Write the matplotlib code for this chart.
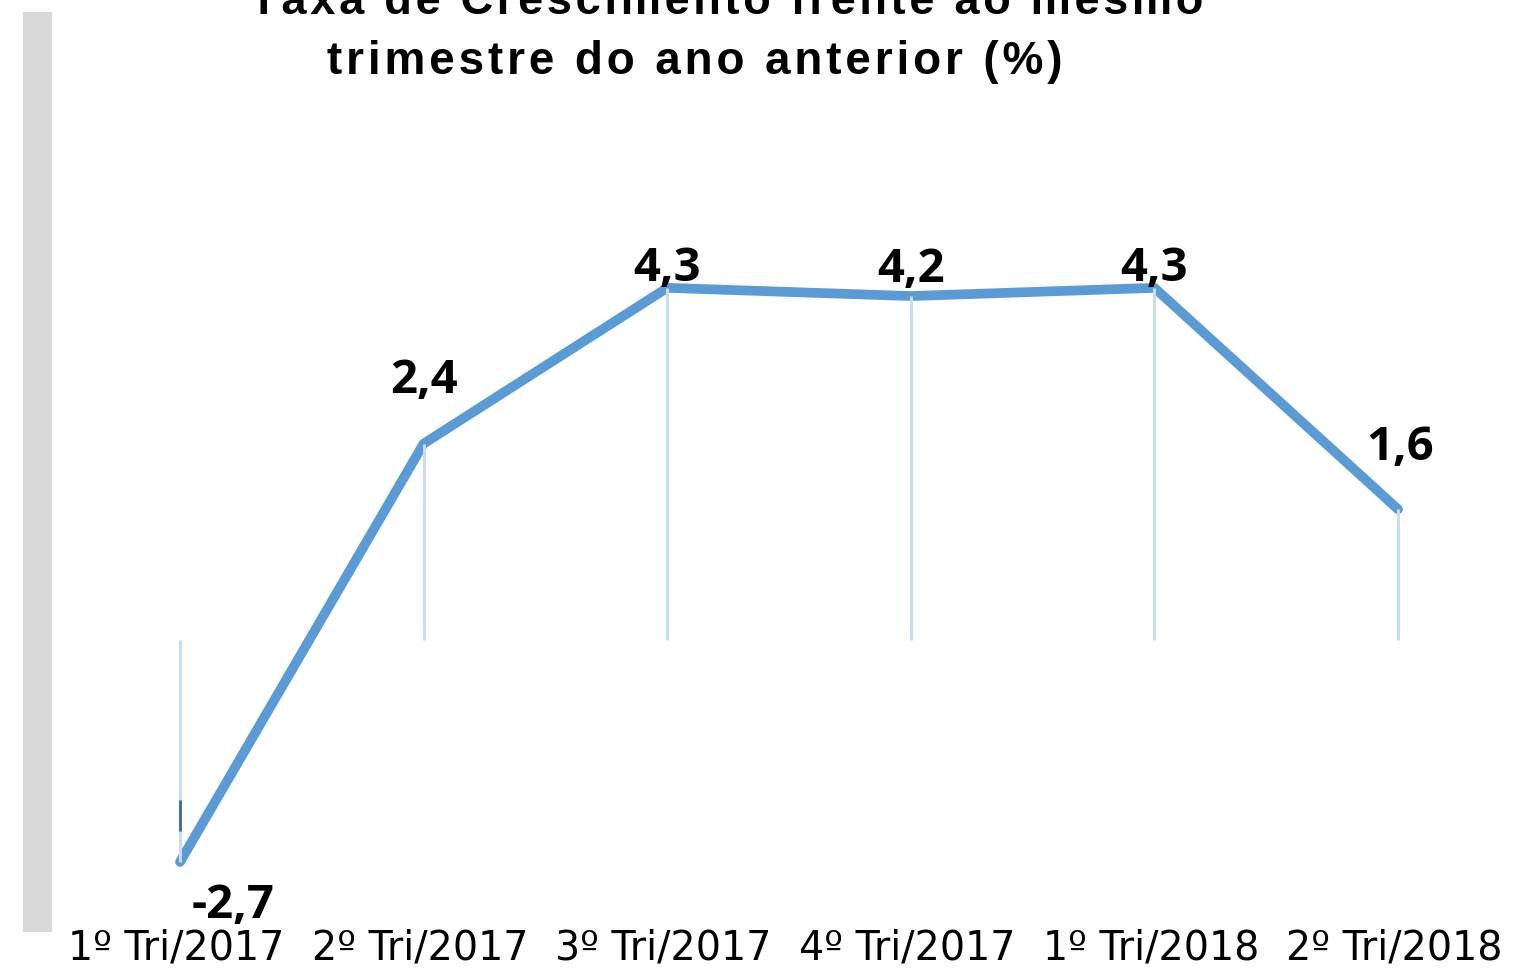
import matplotlib.pyplot as plt
from matplotlib.patches import Rectangle
import matplotlib.transforms as mtransforms

# Data
quarters = ["1º Tri/2017", "2º Tri/2017", "3º Tri/2017", "4º Tri/2017", "1º Tri/2018", "2º Tri/2018"]
growth = [-2.7, 2.4, 4.3, 4.2, 4.3, 1.6]
value_labels = ["-2,7", "2,4", "4,3", "4,2", "4,3", "1,6"]

title_line1 = "Taxa de Crescimento frente ao mesmo"
title_line2 = "trimestre do ano anterior (%)"

# label offsets in pixels (dx, dy) relative to each point
label_offsets = [(53, -44), (0, 63), (0, 19), (0, 27), (0, 19), (2, 62)]

fig = plt.figure(figsize=(15.13, 9.71), dpi=100)
fig.patch.set_facecolor("white")

# grey bar on the left
fig.patches.append(Rectangle((23 / 1513, 39 / 971), 29 / 1513, 920 / 971,
                             transform=fig.transFigure, facecolor="#d9d9d9",
                             edgecolor="none", zorder=0))

ax = fig.add_axes([0, 0, 1, 1])
ax.axis("off")
ax.set_xlim(-0.739, 5.472)
ax.set_ylim(-4.03, 7.81)

x = list(range(len(quarters)))

ax.plot(x, growth, color="#5b9bd5", lw=7, solid_capstyle="round",
        solid_joinstyle="round", zorder=2)
ax.vlines(x, 0, growth, color="#c9dcf0", lw=2.2, zorder=3)
# small dark mark on the first drop line
ax.vlines([0], -2.32, -1.95, color="#3d6a99", lw=2.0, zorder=4)

for xi, yi, lab, (dx, dy) in zip(x, growth, value_labels, label_offsets):
    ax.annotate(lab, (xi, yi), xytext=(dx * 0.72, dy * 0.72), textcoords="offset points",
                ha="center", va="center", fontsize=34, fontweight="bold",
                family="Open Sans", color="black", zorder=5)

trans = mtransforms.blended_transform_factory(ax.transData, ax.transAxes)
for xi, q in zip(x, quarters):
    ax.text(xi - 0.015, 1 - 948 / 971, q, transform=trans, ha="center", va="center",
            fontsize=28.5, family="DejaVu Sans", color="black")

hair = "\u200a"
fig.text(727 / 1513, 1 - 2 / 971, hair.join(title_line1), ha="center", va="center",
         fontsize=32.5, fontweight="bold", family=["Liberation Sans", "DejaVu Sans"])
fig.text(695 / 1513, 1 - 62 / 971, hair.join(title_line2), ha="center", va="center",
         fontsize=33, fontweight="bold", family=["Liberation Sans", "DejaVu Sans"])

fig.savefig("out.png", dpi=100)
